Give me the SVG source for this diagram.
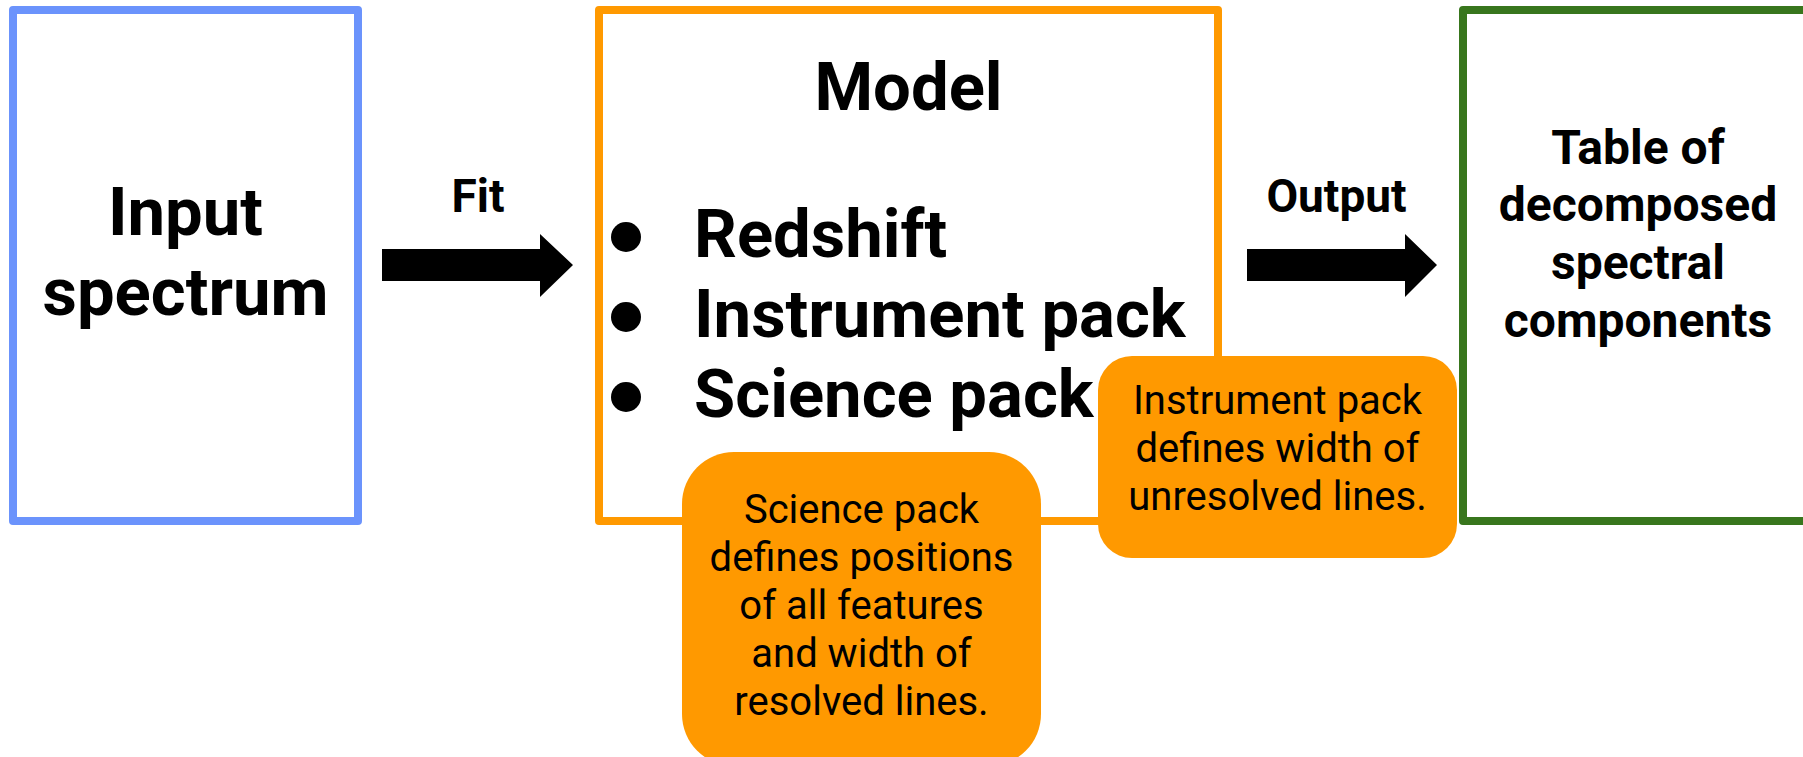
<svg xmlns="http://www.w3.org/2000/svg" width="1803" height="757" viewBox="0 0 1803 757">
  <style>
    .frame { fill: #ffffff; stroke-width: 8; stroke-linejoin: round; }
    .title { font-family: Roboto, "Liberation Sans", sans-serif; font-weight: 700; fill: #000000; }
    .big { font-size: 67px; }
    .mid { font-size: 48px; }
    .ctr { text-anchor: middle; }
    .lbl { font-size: 46px; text-anchor: middle; }
    .note-box { fill: #ff9900; }
    .note { font-family: Roboto, "Liberation Sans", sans-serif; font-weight: 400; font-size: 40px; fill: #000000; text-anchor: middle; }
    .arrow { fill: #000000; }
  </style>

  <rect width="1803" height="757" fill="#ffffff"/>

  <!-- input -->
  <g id="input">
    <rect class="frame" x="13" y="10" width="345" height="511" stroke="#6b93fc"/>
    <text class="title big ctr" x="185.5" y="235">Input</text>
    <text class="title big ctr" x="185.5" y="315">spectrum</text>
  </g>

  <!-- model -->
  <g id="model">
    <rect class="frame" x="599" y="10" width="619" height="511" stroke="#ff9900"/>
    <text class="title big ctr" x="908.5" y="110">Model</text>
    <circle cx="626" cy="237" r="15"/>
    <circle cx="626" cy="317" r="15"/>
    <circle cx="626" cy="397" r="15"/>
    <text class="title big" x="694" y="257">Redshift</text>
    <text class="title big" x="694" y="337">Instrument pack</text>
    <text class="title big" x="694" y="417">Science pack</text>
  </g>

  <!-- output table -->
  <g id="table">
    <rect class="frame" x="1463" y="10" width="400" height="511" stroke="#38761d"/>
    <text class="title mid ctr" x="1638" y="164">Table of</text>
    <text class="title mid ctr" x="1638" y="221">decomposed</text>
    <text class="title mid ctr" x="1638" y="279">spectral</text>
    <text class="title mid ctr" x="1638" y="337">components</text>
  </g>

  <!-- connectors -->
  <g id="connectors">
    <polygon class="arrow" points="382,249 540,249 540,234 573,265 540,297 540,281 382,281"/>
    <text class="title lbl" x="478" y="212">Fit</text>
    <polygon class="arrow" points="1247,249 1405,249 1405,234 1437,265 1405,297 1405,281 1247,281"/>
    <text class="title lbl" x="1336.5" y="212">Output</text>
  </g>

  <!-- instrument pack note -->
  <g id="note-instrument">
    <rect class="note-box" x="1098" y="356" width="359" height="202" rx="34" ry="34"/>
    <text class="note" x="1277.5" y="414">Instrument pack</text>
    <text class="note" x="1277.5" y="462">defines width of</text>
    <text class="note" x="1277.5" y="510">unresolved lines.</text>
  </g>

  <!-- science pack note -->
  <g id="note-science">
    <rect class="note-box" x="682" y="452" width="359" height="314" rx="52" ry="52"/>
    <text class="note" x="861.5" y="523">Science pack</text>
    <text class="note" x="861.5" y="571">defines positions</text>
    <text class="note" x="861.5" y="619">of all features</text>
    <text class="note" x="861.5" y="667">and width of</text>
    <text class="note" x="861.5" y="715">resolved lines.</text>
  </g>
</svg>
